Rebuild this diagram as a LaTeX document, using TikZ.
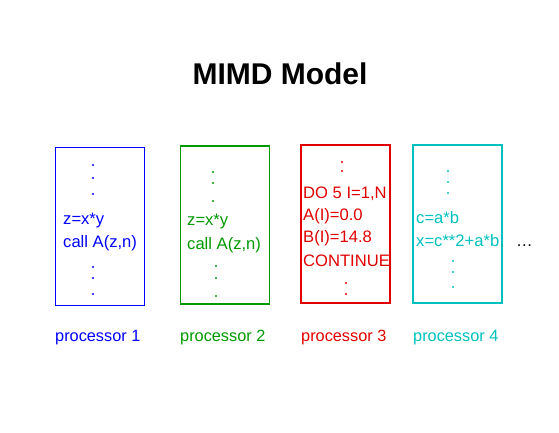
\documentclass[tikz,border=0pt]{standalone}
\usepackage{fontspec}
\setmainfont{Liberation Sans}
\usetikzlibrary{positioning}
\definecolor{procblue}{RGB}{0,0,255}
\definecolor{procgreen}{RGB}{0,153,0}
\definecolor{procred}{RGB}{224,0,0}
\definecolor{proccyan}{RGB}{0,192,192}
\tikzset{
  procbox/.style={draw=#1,line width=1.5pt,minimum width=89pt,
    minimum height=158pt,inner sep=0pt},
  codeline/.style={text=#1,font=\fontsize{16.6}{19}\selectfont,
    anchor=base west,inner sep=0pt},
  proclabel/.style={text=#1,font=\fontsize{16.3}{19}\selectfont,
    anchor=base west,inner sep=0pt},
  titletext/.style={font=\fontsize{30}{36}\selectfont\bfseries,
    anchor=base,inner sep=0pt}
}

\begin{document}
\begin{tikzpicture}[x=1pt,y=-1pt]
  \useasboundingbox (0,0) rectangle (559,432);
  \node[titletext] (title) at (280,84) {MIMD Model};

  % the four processors
  \node[procbox=procblue,line width=1pt] (p1) at (99.5,226) {};
  \node[procbox=procgreen] (p2) at (225,225) {};
  \node[procbox=procred] (p3) at (345.5,224) {};
  \node[procbox=proccyan] (p4) at (457.5,224) {};

  % processor 1
  \foreach \y in {165,178,194,267,278,294}
    \fill[procblue] (93,\y) circle (1.1pt);
  \node[codeline=procblue] (c1a) at (63,224) {z=x*y};
  \node[codeline=procblue] (c1b) at (63,247) {call A(z,n)};

  % processor 2
  \foreach \y in {172,183,201}
    \fill[procgreen] (213,\y) circle (1.1pt);
  \foreach \y in {266,278,296}
    \fill[procgreen] (216,\y) circle (1.1pt);
  \node[codeline=procgreen] (c2a) at (187,225) {z=x*y};
  \node[codeline=procgreen] (c2b) at (187,249) {call A(z,n)};

  % processor 3
  \foreach \y in {162,171}
    \fill[procred] (342,\y) circle (1.1pt);
  \foreach \y in {283,294}
    \fill[procred] (346,\y) circle (1.1pt);
  \node[codeline=procred] (c3a) at (303,198) {DO 5 I=1,N};
  \node[codeline=procred] (c3b) at (303,220) {A(I)=0.0};
  \node[codeline=procred] (c3c) at (303,242.5) {B(I)=14.8};
  \node[codeline=procred] (c3d) at (303,266) {CONTINUE};

  % processor 4
  \foreach \y in {171,182,193}
    \fill[proccyan] (448,\y) circle (1.1pt);
  \foreach \y in {261,272,287}
    \fill[proccyan] (453,\y) circle (1.1pt);
  \node[codeline=proccyan] (c4a) at (416,223) {c=a*b};
  \node[codeline=proccyan] (c4b) at (416,246) {x=c**2+a*b};
  \node[codeline=black] (more) at (516,246) {\ldots};

  % labels
  \node[proclabel=procblue] (l1) at (55,341) {processor 1};
  \node[proclabel=procgreen] (l2) at (180,341) {processor 2};
  \node[proclabel=procred] (l3) at (301,341) {processor 3};
  \node[proclabel=proccyan] (l4) at (413,341) {processor 4};
\end{tikzpicture}
\end{document}
